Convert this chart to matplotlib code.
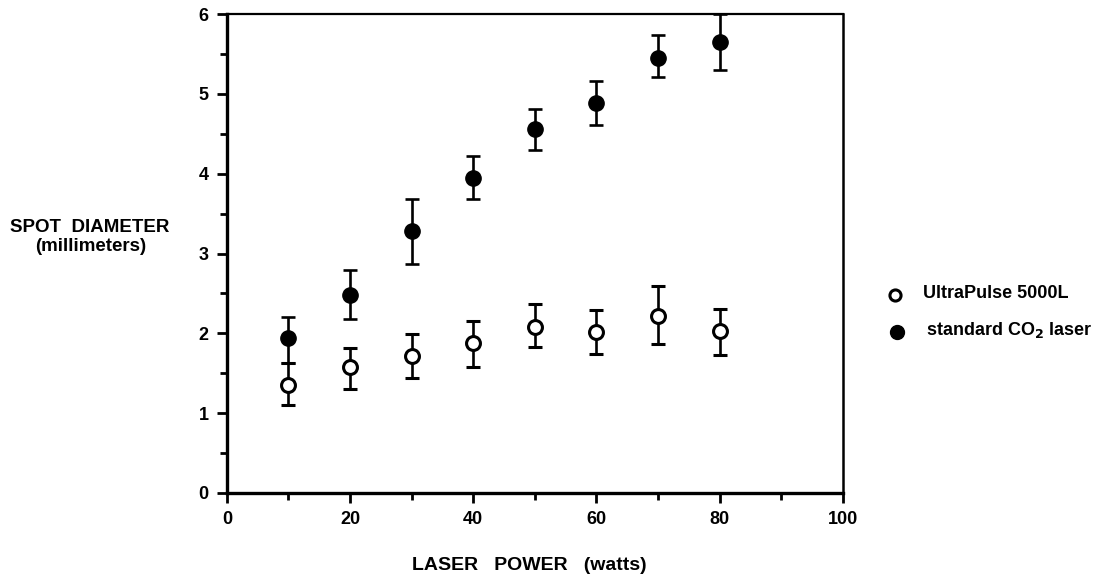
import numpy as np
import matplotlib
matplotlib.use('Agg')
import matplotlib.pyplot as plt

plt.rcParams['font.family'] = ['Liberation Sans', 'DejaVu Sans']

power = [10, 20, 30, 40, 50, 60, 70, 80]

# standard CO2 laser (filled)
std_mean = [1.94, 2.48, 3.28, 3.95, 4.56, 4.89, 5.45, 5.65]
std_up = [2.20, 2.79, 3.68, 4.22, 4.81, 5.16, 5.74, 6.00]
std_lo = [1.63, 2.18, 2.87, 3.68, 4.30, 4.61, 5.21, 5.30]

# UltraPulse 5000L (open)
ult_mean = [1.35, 1.58, 1.72, 1.88, 2.08, 2.02, 2.22, 2.03]
ult_up = [1.63, 1.82, 1.99, 2.16, 2.37, 2.29, 2.59, 2.30]
ult_lo = [1.10, 1.30, 1.44, 1.58, 1.83, 1.74, 1.87, 1.73]

std_err = [np.array(std_mean) - np.array(std_lo), np.array(std_up) - np.array(std_mean)]
ult_err = [np.array(ult_mean) - np.array(ult_lo), np.array(ult_up) - np.array(ult_mean)]

fig = plt.figure(figsize=(10.96, 5.77), dpi=100)
ax = fig.add_axes([0.207, 0.1456, 0.562, 0.830])

ax.errorbar(power, std_mean, yerr=std_err, fmt='o', color='black', ms=11,
            elinewidth=1.9, capsize=5, capthick=1.9, zorder=3)
ax.errorbar(power, ult_mean, yerr=ult_err, fmt='o', color='black', ms=10,
            mfc='white', mec='black', mew=2.2, elinewidth=1.9, capsize=5,
            capthick=1.9, zorder=3)

ax.set_xlim(0, 100)
ax.set_ylim(0, 6)
ax.set_xticks([0, 20, 40, 60, 80, 100])
ax.set_xticks([10, 30, 50, 70, 90], minor=True)
ax.set_yticks([0, 1, 2, 3, 4, 5, 6])
ax.set_yticks(np.arange(0.5, 6, 1.0), minor=True)
ax.tick_params(axis='both', which='major', direction='out', length=7, width=2,
               labelsize=13, pad=6)
ax.tick_params(axis='both', which='minor', direction='out', length=5, width=2)
for lab in ax.get_xticklabels() + ax.get_yticklabels():
    lab.set_fontweight('bold')

ax.spines['left'].set_linewidth(2.4)
ax.spines['bottom'].set_linewidth(2.4)
ax.spines['top'].set_linewidth(1.6)
ax.spines['right'].set_linewidth(1.8)

fig.text(0.082, 1 - 228 / 577, 'SPOT  DIAMETER', ha='center', va='center',
         fontsize=13.5, fontweight='bold')
fig.text(0.083, 1 - 247 / 577, '(millimeters)', ha='center', va='center',
         fontsize=13.5, fontweight='bold')
fig.text(0.483, 1 - 566 / 577, 'LASER   POWER   (watts)', ha='center',
         va='center', fontsize=14, fontweight='bold')

# legend
fig.lines.append(plt.Line2D([895 / 1096], [1 - 295 / 577], marker='o', ms=8,
                            mfc='white', mec='black', mew=2.2,
                            transform=fig.transFigure, figure=fig))
fig.lines.append(plt.Line2D([897 / 1096], [1 - 332 / 577], marker='o', ms=10,
                            color='black', transform=fig.transFigure, figure=fig))
fig.text(923 / 1096, 1 - 293 / 577, 'UltraPulse 5000L', ha='left', va='center',
         fontsize=13, fontweight='bold')
fig.text(926 / 1096, 1 - 330 / 577, 'standard CO$_\\mathbf{2}$ laser', ha='left',
         va='center', fontsize=13, fontweight='bold')

fig.savefig('out.png', dpi=100)
